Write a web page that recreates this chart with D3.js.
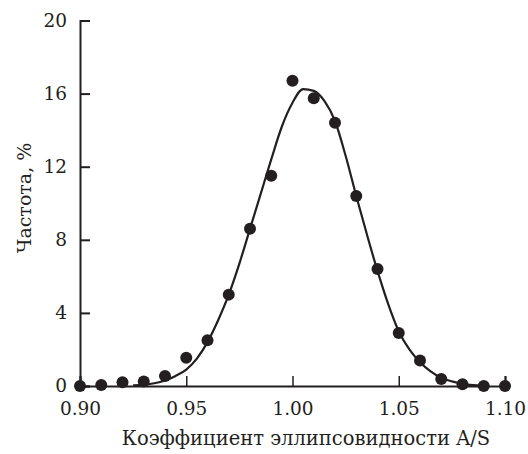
<!DOCTYPE html>
<html>
<head>
<meta charset="utf-8">
<script src="https://cdn.jsdelivr.net/npm/d3@7"></script>
<style>
  body { margin: 0; background: #fff; }
</style>
</head>
<body>
<svg class="chart" width="528" height="454"></svg>
<script>
// measured frequencies (dots)
const ratioPoints = [0.90, 0.91, 0.92, 0.93, 0.94, 0.95, 0.96, 0.97, 0.98, 0.99, 1.00,
  1.01, 1.02, 1.03, 1.04, 1.05, 1.06, 1.07, 1.08, 1.09, 1.10];
const freqPoints = [0, 0.05, 0.2, 0.25, 0.55, 1.55, 2.5, 5.0, 8.6, 11.5, 16.7,
  15.75, 14.4, 10.4, 6.4, 2.9, 1.4, 0.38, 0.1, 0.0, 0.0];

// fitted curve
const ratioCurve = [0.925, 0.93, 0.935, 0.94, 0.945, 0.95, 0.955, 0.96, 0.965, 0.97, 0.975,
  0.98, 0.985, 0.99, 0.995, 1.00, 1.005, 1.01, 1.015, 1.02, 1.025, 1.03, 1.035, 1.04,
  1.045, 1.05, 1.055, 1.06, 1.065, 1.07, 1.075, 1.08, 1.085, 1.09];
const freqCurve = [0.03, 0.07, 0.15, 0.3, 0.55, 0.9, 1.5, 2.4, 3.6, 5.0, 6.7,
  8.6, 10.5, 12.4, 14.2, 15.5, 16.25, 16.15, 15.6, 14.5, 12.6, 10.4, 8.3, 6.3,
  4.5, 3.0, 2.0, 1.3, 0.8, 0.45, 0.25, 0.12, 0.05, 0.02];

const xTicks = [0.90, 0.95, 1.00, 1.05, 1.10];
const yTicks = [0, 4, 8, 12, 16, 20];

const xTitle = "Коэффициент эллипсовидности A/S";
const yTitle = "Частота, %";

drawChart();

function drawChart(margin = { top: 20.5, right: 23, bottom: 68, left: 80 }) {
  const svg = d3.select(".chart");
  const width = +svg.attr("width");
  const height = +svg.attr("height");
  const ink = "#231f20";
  const font = "DejaVu Serif";

  const x = d3.scaleLinear()
    .domain([0.9, 1.1])
    .range([margin.left, width - margin.right]);

  const y = d3.scaleLinear()
    .domain([0, 20])
    .range([height - margin.bottom, margin.top]);

  // Curve
  const line = d3.line()
    .x((d) => x(d[0]))
    .y((d) => y(d[1]))
    .curve(d3.curveMonotoneX);

  svg.append("path")
    .datum(d3.zip(ratioCurve, freqCurve))
    .attr("fill", "none")
    .attr("stroke", ink)
    .attr("stroke-width", 2.2)
    .attr("d", line);

  // X axis
  svg.append("g")
    .attr("transform", `translate(0,${y(0)})`)
    .call(d3.axisBottom(x).tickValues(xTicks).tickSize(-10).tickPadding(16)
      .tickFormat(d3.format(".2f")))
    .attr("font-family", font)
    .attr("font-size", 18.5)
    .call((g) => g.select(".domain").attr("stroke", ink).attr("stroke-width", 2))
    .call((g) => g.selectAll(".tick line").attr("stroke", ink).attr("stroke-width", 1.5))
    .call((g) => g.selectAll(".tick text").attr("fill", ink).attr("dy", "0.71em"));

  // Y axis
  svg.append("g")
    .attr("transform", `translate(${x(0.9)},0)`)
    .call(d3.axisLeft(y).tickValues(yTicks).tickSize(-10).tickPadding(13))
    .attr("font-family", font)
    .attr("font-size", 18.5)
    .call((g) => g.select(".domain").attr("stroke", ink).attr("stroke-width", 2))
    .call((g) => g.selectAll(".tick line").attr("stroke", ink).attr("stroke-width", 2))
    .call((g) => g.selectAll(".tick text").attr("fill", ink));

  // Dots
  svg.append("g")
    .selectAll("circle")
    .data(d3.zip(ratioPoints, freqPoints))
    .join("circle")
    .attr("cx", (d) => x(d[0]))
    .attr("cy", (d) => y(d[1]))
    .attr("r", 6)
    .attr("fill", ink);

  // Axis titles
  svg.append("text")
    .attr("x", 306)
    .attr("y", 445)
    .attr("text-anchor", "middle")
    .attr("font-family", font)
    .attr("font-size", 19.5)
    .attr("fill", ink)
    .text(xTitle);

  svg.append("text")
    .attr("transform", `translate(31,198) rotate(-90)`)
    .attr("text-anchor", "middle")
    .attr("font-family", font)
    .attr("font-size", 19)
    .attr("fill", ink)
    .text(yTitle);
}
</script>
</body>
</html>
